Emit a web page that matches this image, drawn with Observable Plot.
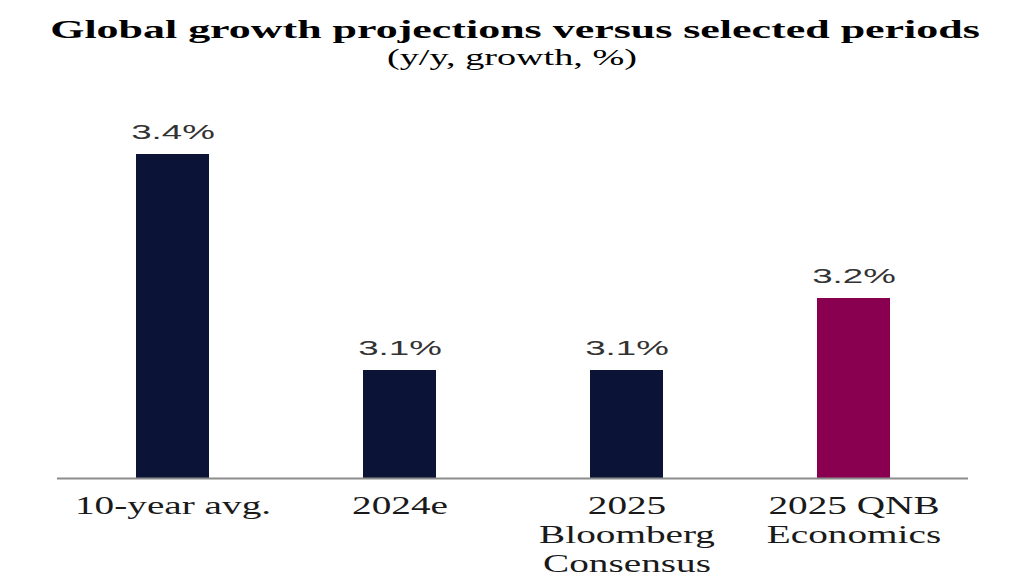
<!DOCTYPE html>
<html>
<head>
<meta charset="utf-8">
<script src="https://cdn.jsdelivr.net/npm/d3@7"></script>
<script src="https://cdn.jsdelivr.net/npm/@observablehq/plot@0.6"></script>
<style>
  body { margin: 0; background: #fff; }
  #wrap { position: relative; width: 1024px; height: 585px; overflow: hidden; background: #fff; }
  #chart { position: absolute; left: 0; top: 0; }
  .t { position: absolute; left: 0; width: 1024px; text-align: center; white-space: nowrap;
       font-family: "Liberation Serif", "Times New Roman", serif; color: #000; }
  #title { top: 17px; left: 3px; font-size: 26px; line-height: 26px; font-weight: bold; transform: scaleX(1.69); }
  #subtitle { top: 46px; font-size: 23px; line-height: 23px; transform: scaleX(1.66); }
</style>
</head>
<body>
<div id="wrap">
  <div id="chart"></div>
  <div class="t" id="title">Global growth projections versus selected periods</div>
  <div class="t" id="subtitle">(y/y, growth, %)</div>
</div>
<script>
const categories = ["10-year avg.", "2024e", "2025\nBloomberg\nConsensus", "2025 QNB\nEconomics"];
const values = [3.4, 3.1, 3.1, 3.2];
const groups = ["other", "other", "other", "qnb"];
const groupColors = ["#0b1437", "#8a0050"];
const baseline = 2.95;

const data = categories.map((c, i) => ({category: c, value: values[i], group: groups[i]}));

const chart = Plot.plot({
  width: 1024,
  height: 585,
  marginTop: 154,
  marginBottom: 107,
  marginLeft: 57,
  marginRight: 56,
  x: {domain: categories, paddingInner: 0.68, paddingOuter: 0.338, label: null},
  y: {domain: [baseline, 3.4], axis: null},
  color: {domain: ["other", "qnb"], range: groupColors},
  style: {fontFamily: "Liberation Serif, Times New Roman, serif", background: "#fff"},
  marks: [
    Plot.barY(data, {x: "category", y1: baseline, y2: "value", fill: "group"}),
    Plot.ruleY([baseline], {stroke: "#8c8c8c", strokeWidth: 2}),
    Plot.text(data, {
      x: "category", y: "value",
      text: d => d.value.toFixed(1) + "%",
      lineAnchor: "bottom", dy: -16,
      fontSize: 21, fontFamily: "Liberation Sans, Arial, sans-serif", fill: "#333"
    }),
    Plot.axisX({tickSize: 0, tickPadding: 15, fontSize: 26, lineHeight: 1.12, fill: "#1a1a1a", label: null})
  ]
});

function stretch(sel, s) {
  chart.querySelectorAll(sel).forEach(t => {
    const tr = t.getAttribute("transform") || "";
    t.setAttribute("transform", tr + ` scale(${s},1)`);
  });
}
stretch('g[aria-label="x-axis tick label"] text', 1.51);
stretch('g[aria-label="text"] text', 1.75);

document.getElementById("chart").appendChild(chart);
</script>
</body>
</html>
